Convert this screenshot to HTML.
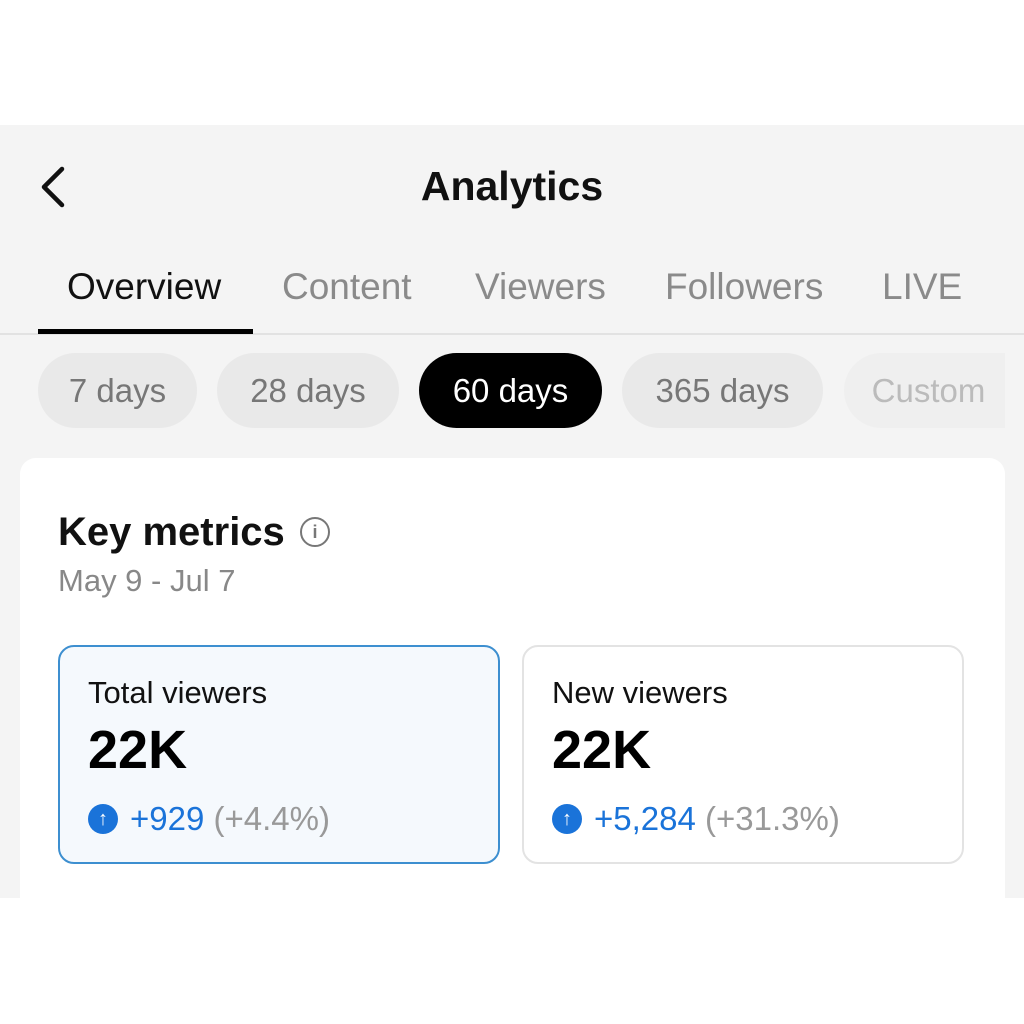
<!DOCTYPE html>
<html><head><style>
body{margin:0;width:1024px;height:1024px;background:#fff;position:relative;overflow:hidden;font-family:"Liberation Sans",sans-serif}
.a{position:absolute}
.pill{position:absolute;top:353px;height:75px;border-radius:38px;background:#e9e9e9;color:#777;font-size:33px;line-height:75px;text-align:center}
.t{position:absolute;top:265px;font-size:37px;color:#8a8a8a;line-height:44px}
.box{position:absolute;top:645px;width:442px;height:219px;border-radius:16px;box-sizing:border-box}
.up{display:inline-block;width:30px;height:30px;border-radius:50%;background:#1a73d9;color:#fff;text-align:center;line-height:30px;font-size:20px;font-weight:bold;vertical-align:middle;margin-right:12px;position:relative;top:-2px}
</style></head><body>
<div class="a" style="left:0;top:125px;width:1024px;height:773px;background:#f4f4f4"></div>
<svg class="a" style="left:36px;top:165px" width="34" height="44"><polyline points="26,4 8,22 26,40" fill="none" stroke="#111" stroke-width="4.5" stroke-linecap="round" stroke-linejoin="round"/></svg>
<div class="a" style="left:0;width:1024px;top:163px;text-align:center;font-size:41px;font-weight:bold;color:#111;line-height:46px">Analytics</div>
<div class="t" style="left:67px;color:#111">Overview</div>
<div class="t" style="left:282px">Content</div>
<div class="t" style="left:475px">Viewers</div>
<div class="t" style="left:665px">Followers</div>
<div class="t" style="left:882px">LIVE</div>
<div class="a" style="left:0;top:333px;width:1024px;height:2px;background:#e2e2e2"></div>
<div class="a" style="left:38px;top:329px;width:215px;height:5px;background:#000"></div>
<div class="pill" style="left:38px;width:159px">7 days</div>
<div class="pill" style="left:217px;width:182px">28 days</div>
<div class="pill" style="left:419px;width:183px;background:#000;color:#fff">60 days</div>
<div class="pill" style="left:622px;width:201px">365 days</div>
<div class="pill" style="left:844px;width:161px;background:#efefef;color:#bbb;border-radius:38px 0 0 38px;text-indent:8px">Custom</div>
<div class="a" style="left:20px;top:458px;width:985px;height:440px;background:#fff;border-radius:16px 16px 0 0"></div>
<div class="a" style="left:58px;top:509px;font-size:40px;font-weight:bold;color:#111;line-height:46px">Key metrics</div>
<div class="a" style="left:300px;top:517px;width:26px;height:26px;border:2.5px solid #777;border-radius:50%;color:#777;font-size:18px;font-weight:bold;text-align:center;line-height:26px">i</div>
<div class="a" style="left:58px;top:562px;font-size:31px;color:#888;line-height:38px">May 9 - Jul 7</div>
<div class="box" style="left:58px;background:#f5f9fd;border:2px solid #3d8fd0"></div>
<div class="box" style="left:522px;background:#fff;border:2px solid #e3e3e3"></div>
<div class="a" style="left:88px;top:674px;font-size:31px;color:#111;line-height:38px">Total viewers</div>
<div class="a" style="left:88px;top:720px;font-size:54px;font-weight:bold;color:#000;line-height:60px">22K</div>
<div class="a" style="left:88px;top:799px;font-size:33px;line-height:40px;color:#1a73d9"><span class="up">↑</span>+929 <span style="color:#999">(+4.4%)</span></div>
<div class="a" style="left:552px;top:674px;font-size:31px;color:#111;line-height:38px">New viewers</div>
<div class="a" style="left:552px;top:720px;font-size:54px;font-weight:bold;color:#000;line-height:60px">22K</div>
<div class="a" style="left:552px;top:799px;font-size:33px;line-height:40px;color:#1a73d9"><span class="up">↑</span>+5,284 <span style="color:#999">(+31.3%)</span></div>
</body></html>
